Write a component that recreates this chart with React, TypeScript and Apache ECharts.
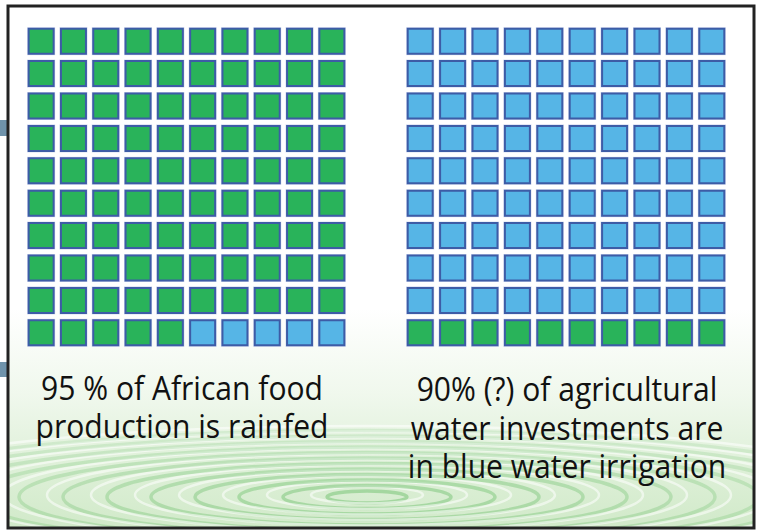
import React, { useEffect, useRef } from "react";
import * as echarts from "echarts";

// ---- data ----
const COLS = ["1", "2", "3", "4", "5", "6", "7", "8", "9", "10"];
const ROWS = ["1", "2", "3", "4", "5", "6", "7", "8", "9", "10"];
const leftNames = ["Rainfed", "Irrigated"];
const leftCounts = [95, 5];
const leftColors = ["#29b35a", "#56b5e6"];
const rightNames = ["Blue water irrigation", "Other"];
const rightCounts = [90, 10];
const rightColors = ["#56b5e6", "#29b35a"];
const leftText = ["95 % of African food", "production is rainfed"];
const rightText = ["90% (?) of agricultural", "water investments are", "in blue water irrigation"];

function cellsFor(counts: number[]) {
  const out: number[][][] = counts.map(() => []);
  let idx = 0;
  counts.forEach((c, k) => {
    for (let i = 0; i < c; i++) {
      out[k].push([idx % 10, Math.floor(idx / 10)]);
      idx++;
    }
  });
  return out;
}

export default function App() {
  const ref = useRef<HTMLDivElement>(null);
  useEffect(() => {
    const chart = echarts.init(ref.current!, null, { renderer: "svg" });
    const W = 757, H = 532;
    const cx = 367, cy = 497;
    const ripples: any[] = [];
    for (let i = 0; i < 12; i++) {
      const rx = 40 + i * 44;
      const ry = 6 + i * 5.5;
      ripples.push({
        type: "ellipse",
        shape: { cx, cy, rx, ry },
        style: { fill: "none", stroke: "rgba(80,180,80," + (0.38 - i * 0.022) + ")", lineWidth: 3.5 },
        silent: true,
      });
      ripples.push({
        type: "ellipse",
        shape: { cx, cy: cy - 2, rx: rx + 16, ry: ry + 2.5 },
        style: { fill: "none", stroke: "rgba(255,255,255,0.55)", lineWidth: 2.5 },
        silent: true,
      });
    }
    const textEls: any[] = [];
    leftText.forEach((t, i) =>
      textEls.push({
        type: "text",
        x: 182,
        y: 388 + i * 38,
        scaleX: 0.94,
        style: { text: t, font: "32px 'Open Sans'", fill: "#111111", align: "center", verticalAlign: "middle" },
        z: 10,
      })
    );
    rightText.forEach((t, i) =>
      textEls.push({
        type: "text",
        x: 567,
        y: 389 + i * 38.5,
        scaleX: 0.94,
        style: { text: t, font: "32px 'Open Sans'", fill: "#111111", align: "center", verticalAlign: "middle" },
        z: 10,
      })
    );

    const grids = [
      { left: 25, top: 25, width: 323, height: 324 },
      { left: 404, top: 25, width: 324, height: 324 },
    ];
    const series: any[] = [];
    const sets = [
      { counts: leftCounts, colors: leftColors, names: leftNames },
      { counts: rightCounts, colors: rightColors, names: rightNames },
    ];
    sets.forEach((s, g) => {
      const cells = cellsFor(s.counts);
      const all = cells.flat();
      series.push({
        type: "scatter",
        xAxisIndex: g,
        yAxisIndex: g,
        symbol: "rect",
        symbolSize: 28,
        data: all,
        itemStyle: { color: "#c6cdea" },
        silent: true,
        z: 2,
      });
      cells.forEach((c, k) =>
        series.push({
          type: "scatter",
          name: s.names[k],
          xAxisIndex: g,
          yAxisIndex: g,
          symbol: "rect",
          symbolSize: 25,
          data: c,
          itemStyle: { color: s.colors[k], borderColor: "#3d5ca6", borderWidth: 2, opacity: 1 },
          z: 3,
        })
      );
    });

    chart.setOption({
      animation: false,
      backgroundColor: "#ffffff",
      grid: grids,
      xAxis: grids.map((_, i) => ({ type: "category", data: COLS, gridIndex: i, show: false, boundaryGap: true })),
      yAxis: grids.map((_, i) => ({ type: "category", data: ROWS, gridIndex: i, show: false, inverse: true, boundaryGap: true })),
      series,
      graphic: [
        {
          type: "rect",
          shape: { x: 0, y: 0, width: W, height: H },
          style: {
            fill: new echarts.graphic.LinearGradient(0, 0, 0, 1, [
              { offset: 0, color: "#ffffff" },
              { offset: 0.58, color: "#ffffff" },
              { offset: 0.74, color: "#f0f8ed" },
              { offset: 0.88, color: "#def0d8" },
              { offset: 1, color: "#d0e9c8" },
            ]),
          },
          silent: true,
          z: -10,
        },
        ...ripples.map((r) => ({ ...r, z: -9 })),
        { type: "rect", shape: { x: 0, y: 0, width: 7, height: H }, style: { fill: "#ffffff" }, z: -5, silent: true },
        { type: "rect", shape: { x: 755, y: 0, width: 5, height: H }, style: { fill: "#ffffff" }, z: -5, silent: true },
        { type: "rect", shape: { x: 0, y: 529, width: W, height: 5 }, style: { fill: "#ffffff" }, z: -5, silent: true },
        { type: "rect", shape: { x: 0, y: 120, width: 7, height: 16 }, style: { fill: "#6f93ab" }, z: -4, silent: true },
        { type: "rect", shape: { x: 0, y: 362, width: 7, height: 15 }, style: { fill: "#6f93ab" }, z: -4, silent: true },
        {
          type: "rect",
          shape: { x: 8, y: 6, width: 746, height: 522 },
          style: { fill: "none", stroke: "#222222", lineWidth: 3 },
          z: -3,
          silent: true,
        },
        ...textEls,
      ],
    });
    return () => chart.dispose();
  }, []);
  return <div ref={ref} style={{ position: "absolute", left: 0, top: 0, width: 757, height: 532 }} />;
}
